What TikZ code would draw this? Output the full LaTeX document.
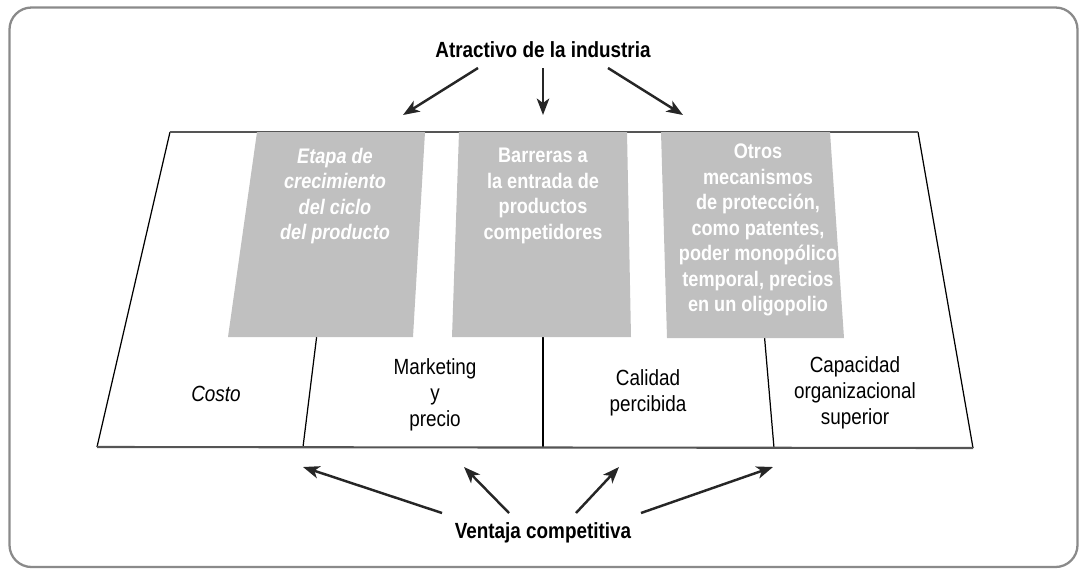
\documentclass[tikz,border=0pt]{standalone}
\usepackage{fontspec}
\setmainfont{Liberation Sans}[FakeStretch=0.86]
\usetikzlibrary{arrows.meta}

\definecolor{boxgrey}{HTML}{C0C0C0}
\definecolor{framegrey}{HTML}{8A8A8A}
\definecolor{edgegrey}{HTML}{555555}

\begin{document}
\begin{tikzpicture}[
    x=0.02cm, y=-0.02cm,
    title/.style={font=\fontsize{12.5}{14}\selectfont\bfseries},
    greytext/.style={align=center, text=white, font=\fontsize{12}{14.5}\selectfont\bfseries},
    factor/.style={align=center, font=\fontsize{12.5}{14.8}\selectfont},
    arrow/.style={-{Stealth[length=3.3mm, width=2.5mm, inset=0.9mm]}, line width=1.4pt, draw=black!85},
    greybox/.style={fill=boxgrey, draw=none},
    divider/.style={draw=black, line width=0.7pt}
]
    \useasboundingbox (0,0) rectangle (1085,569);

    % Frame
    \draw[framegrey, line width=1.3pt, rounded corners=0.44cm] (9.5,7.5) rectangle (1077.5,567);

    % Trapezoid corners
    \coordinate (tl) at (170,132);
    \coordinate (tr) at (918,132);
    \coordinate (br) at (973,448);
    \coordinate (bl) at (97,447);

    % Dividers
    \draw[divider] (342,132) -- (303,447);
    \draw[divider] (543,132) -- (543,447);
    \draw[divider] (747,132) -- (774,448);

    % Trapezoid
    \draw[line width=0.7pt] (tl) -- (bl);
    \draw[line width=0.7pt] (tr) -- (br);
    \draw[edgegrey, line width=1.2pt] (tl) -- (tr);
    \draw[edgegrey, line width=1.2pt] (bl) -- (br);

    % Grey boxes
    \fill[greybox] (257,132) -- (425,132) -- (413,337) -- (228,337) -- cycle;
    \fill[greybox] (459,132) -- (627,132) -- (631,337) -- (452,337) -- cycle;
    \fill[greybox] (661,132) -- (830,132) -- (844,338) -- (667,338) -- cycle;

    \node[greytext, font=\fontsize{12}{14.5}\selectfont\bfseries\itshape] (etapa) at (335,196) {Etapa de\\crecimiento\\del ciclo\\del producto};
    \node[greytext] (barreras) at (543,196) {Barreras a\\la entrada de\\productos\\competidores};
    \node[greytext] (otros) at (758,230) {Otros\\mecanismos\\de protección,\\como patentes,\\poder monopólico\\temporal, precios\\en un oligopolio};

    % Factors
    \node[factor, font=\fontsize{12.5}{14.8}\selectfont\itshape] (costo) at (216,394) {Costo};
    \node[factor] (marketing) at (435,395) {Marketing\\y\\precio};
    \node[factor] (calidad) at (648,393) {Calidad\\percibida};
    \node[factor] (capacidad) at (855,393) {Capacidad\\organizacional\\superior};

    % Titles
    \node[title] (atractivo) at (543,50) {Atractivo de la industria};
    \node[title] (ventaja) at (543,533) {Ventaja competitiva};

    % Arrow ends
    \coordinate (a1) at (478,68);  \coordinate (a1e) at (403,115);
    \coordinate (a2) at (543,68);  \coordinate (a2e) at (543,115);
    \coordinate (a3) at (608,68);  \coordinate (a3e) at (683,115);
    \coordinate (v1) at (442,513); \coordinate (v1e) at (303,467);
    \coordinate (v2) at (509,513); \coordinate (v2e) at (464,467);
    \coordinate (v3) at (576,513); \coordinate (v3e) at (619,467);
    \coordinate (v4) at (641,513); \coordinate (v4e) at (773,467);

    % Connections
    \draw[arrow] (a1) -- (a1e);
    \draw[arrow] (a2) -- (a2e);
    \draw[arrow] (a3) -- (a3e);
    \draw[arrow] (v1) -- (v1e);
    \draw[arrow] (v2) -- (v2e);
    \draw[arrow] (v3) -- (v3e);
    \draw[arrow] (v4) -- (v4e);

\end{tikzpicture}
\end{document}
